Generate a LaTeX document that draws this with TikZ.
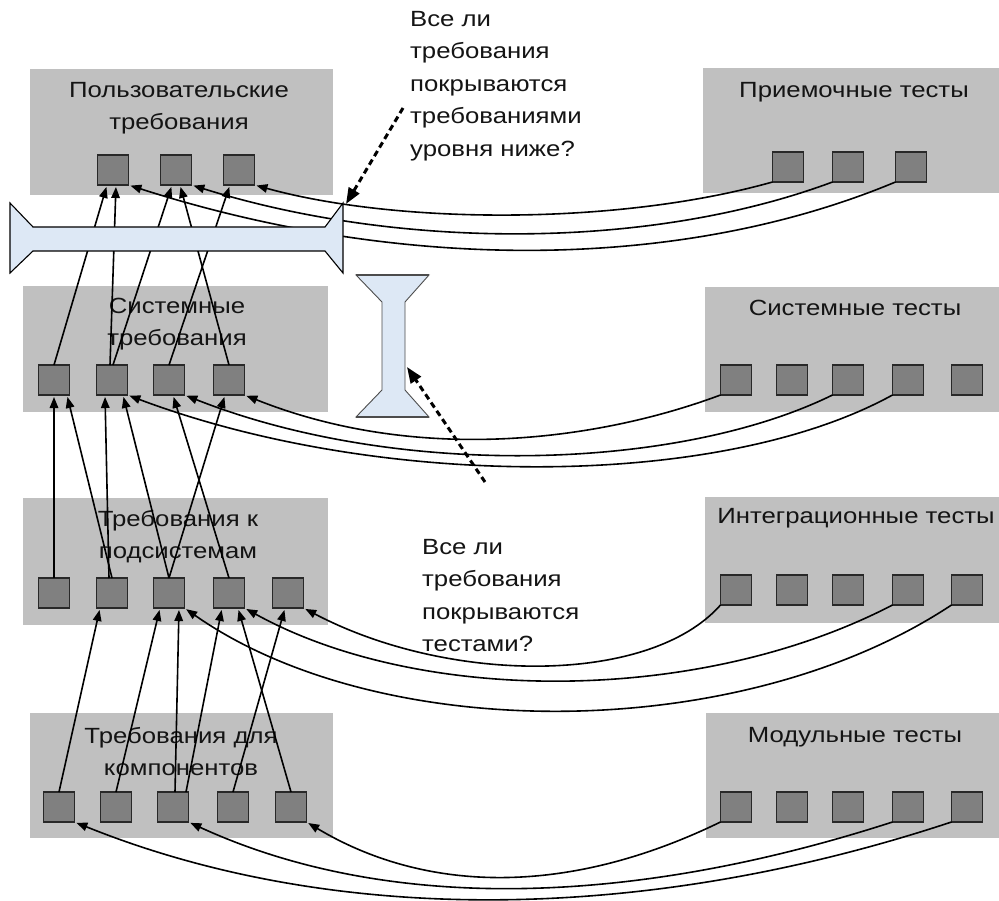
\documentclass[tikz,border=0pt]{standalone}
\usepackage{fontspec}
\setmainfont{Liberation Sans}[FakeStretch=1.17]
\usetikzlibrary{arrows.meta}
\definecolor{boxgray}{RGB}{192,192,192}
\definecolor{sqgray}{RGB}{128,128,128}
\definecolor{sqedge}{RGB}{40,40,40}
\definecolor{beamblue}{RGB}{221,232,245}
\definecolor{txt}{RGB}{20,20,20}
\begin{document}
\begin{tikzpicture}[x=1pt,y=-1pt,
  grp/.style={fill=boxgray,draw=none,anchor=north west,inner sep=0,outer sep=0},
  sq/.style={draw=sqedge,line width=1.4pt,fill=sqgray,minimum width=31pt,minimum height=30pt,inner sep=0,outer sep=0},
  lbl/.style={font=\fontsize{22}{32}\selectfont,text=txt,align=center,inner sep=0},
  callout/.style={font=\fontsize{22}{32.5}\selectfont,text=txt,align=left,inner sep=0,anchor=north west},
  conn/.style={draw=black,line width=1.6pt,-{Triangle[length=11pt,width=8.5pt]},shorten >=2pt},
  dashline/.style={draw=black,line width=3pt,dash pattern=on 6pt off 4pt,-{Triangle[length=16pt,width=12pt]}},
  beamshape/.style={fill=beamblue,draw=black,line width=1.1pt,line join=miter}]
\useasboundingbox (0,0) rectangle (999,901);
\fill[white] (0,0) rectangle (999,901);

% group boxes
\node[grp,minimum width=303pt,minimum height=126pt] (B1) at (30,69) {};
\node[grp,minimum width=305pt,minimum height=126pt] (B2) at (23,286) {};
\node[grp,minimum width=305pt,minimum height=127pt] (B3) at (23,498) {};
\node[grp,minimum width=303pt,minimum height=125pt] (B4) at (30,713) {};
\node[grp,minimum width=296pt,minimum height=125pt] (R1) at (703,68) {};
\node[grp,minimum width=294pt,minimum height=125pt] (R2) at (705,287) {};
\node[grp,minimum width=294pt,minimum height=126pt] (R3) at (705,497) {};
\node[grp,minimum width=293pt,minimum height=125pt] (R4) at (706,713) {};

% labels
\node[lbl] (L1) at (179,108) {Пользовательские\\требования};
\node[lbl] (L2) at (177,324) {Системные\\требования};
\node[lbl] (L3) at (178,537) {Требования к\\подсистемам};
\node[lbl] (L4) at (181,752) {Требования для\\компонентов};
\node[lbl] (LR1) at (854,92) {Приемочные тесты};
\node[lbl] (LR2) at (855,308) {Системные тесты};
\node[lbl] (LR3) at (856,518) {Интеграционные тесты};
\node[lbl] (LR4) at (855,737) {Модульные тесты};

% requirement squares
\node[sq] (U1) at (113,170) {};
\node[sq] (U2) at (176,170) {};
\node[sq] (U3) at (239,170) {};
\node[sq] (S1) at (54,380) {};
\node[sq] (S2) at (112,380) {};
\node[sq] (S3) at (169,380) {};
\node[sq] (S4) at (229,380) {};
\node[sq] (P1) at (54,593) {};
\node[sq] (P2) at (112,593) {};
\node[sq] (P3) at (169,593) {};
\node[sq] (P4) at (229,593) {};
\node[sq] (P5) at (288,593) {};
\node[sq] (C1) at (59,807) {};
\node[sq] (C2) at (116,807) {};
\node[sq] (C3) at (173,807) {};
\node[sq] (C4) at (233,807) {};
\node[sq] (C5) at (291,807) {};

% test squares
\node[sq] (A1) at (788,167) {};
\node[sq] (A2) at (848,167) {};
\node[sq] (A3) at (911,167) {};
\foreach \n/\x in {1/736,2/792,3/848,4/908,5/967}{
  \node[sq] (T\n) at (\x,380) {};
  \node[sq] (I\n) at (\x,590) {};
  \node[sq] (M\n) at (\x,807) {};
}

% system -> user
\draw[conn] (S1.north) -- ([xshift=-6pt]U1.south);
\draw[conn] ([xshift=-2pt]S2.north) -- ([xshift=3pt]U1.south);
\draw[conn] ([xshift=1pt]S2.north) -- ([xshift=-4pt]U2.south);
\draw[conn] (S4.north) -- ([xshift=4pt]U2.south);
\draw[conn] (S3.north) -- ([xshift=-9pt]U3.south);

% subsystem -> system
\draw[conn] (P1.north) -- (S1.south);
\draw[conn] (P2.north) -- ([xshift=13pt]S1.south);
\draw[conn] ([xshift=-3pt]P2.north) -- ([xshift=-7pt]S2.south);
\draw[conn] (P3.north) -- ([xshift=11pt]S2.south);
\draw[conn] (P4.north) -- ([xshift=4pt]S3.south);
\draw[conn] (P3.north) -- ([xshift=-4pt]S4.south);

% component -> subsystem
\draw[conn] (C1.north) -- ([xshift=-12pt]P2.south);
\draw[conn] (C2.north) -- ([xshift=-9pt]P3.south);
\draw[conn] ([xshift=2pt]C3.north) -- ([xshift=10pt]P3.south);
\draw[conn] ([xshift=13pt]C3.north) -- ([xshift=-7pt]P4.south);
\draw[conn] (C4.north) -- ([xshift=-3pt]P5.south);
\draw[conn] (C5.north) -- ([xshift=9pt]P4.south);

% tests -> requirements
\draw[conn] (A1.south west) .. controls (620,225) and (400,225) .. (U3.south east);
\draw[conn] (A2.south west) .. controls (650,250) and (400,250) .. (U2.south east);
\draw[conn] (A3.south west) .. controls (680,272) and (400,272) .. (U1.south east);

\draw[conn] (T1.south west) .. controls (600,440) and (420,465) .. (S4.south east);
\draw[conn] (T3.south west) .. controls (680,470) and (400,480) .. (S3.south east);
\draw[conn] (T4.south west) .. controls (720,490) and (380,490) .. (S2.south east);

\draw[conn] (I1.south west) .. controls (650,685) and (450,685) .. (P5.south east);
\draw[conn] (I4.south west) .. controls (700,705) and (420,705) .. (P4.south east);
\draw[conn] (I5.south west) .. controls (740,745) and (380,745) .. (P3.south east);

\draw[conn] (M1.south west) .. controls (560,900) and (420,890) .. (C5.south east);
\draw[conn] (M4.south west) .. controls (620,910) and (380,910) .. (C3.south east);
\draw[conn] (M5.south west) .. controls (640,925) and (330,925) .. (C1.south east);

% horizontal beam
\draw[beamshape] (10,203) -- (33,227) -- (325,227) -- (343,203) -- (343,273) -- (325,251) -- (33,251) -- (10,273) -- cycle;
% vertical beam
\draw[beamshape,draw=black!70,line width=0.9pt] (356,275) -- (429,275) -- (405,302) -- (405,390) -- (429,417) -- (356,417) -- (382,390) -- (382,302) -- cycle;
\draw[black!70,line width=2.4pt] (356,275) -- (429,275) (356,417) -- (429,417);

% callouts
\node[callout] (Q1) at (410,11) {Все ли\\требования\\покрываются\\требованиями\\уровня ниже?};
\node[callout] (Q2) at (422,539) {Все ли\\требования\\покрываются\\тестами?};
\coordinate (q1s) at (403,108);
\coordinate (q1e) at (346,204);
\coordinate (q2s) at (485,482);
\coordinate (q2e) at (407,367);
\draw[dashline] (q1s) -- (q1e);
\draw[dashline] (q2s) -- (q2e);
\end{tikzpicture}
\end{document}
